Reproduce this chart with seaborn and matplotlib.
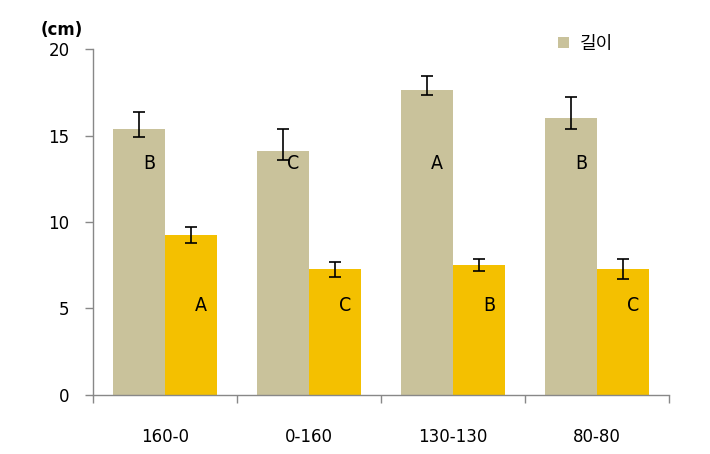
import numpy as np
import pandas as pd
import matplotlib
matplotlib.use("Agg")
import matplotlib.pyplot as plt
import seaborn as sns

categories = ["160-0", "0-160", "130-130", "80-80"]
series_names = ["길이", "너비"]
length_vals = [15.4, 14.1, 17.65, 16.0]
length_err_lo = [0.5, 0.5, 0.3, 0.65]
length_err_hi = [0.95, 1.3, 0.8, 1.2]
other_vals = [9.27, 7.26, 7.53, 7.26]
other_err_lo = [0.47, 0.46, 0.35, 0.57]
other_err_hi = [0.42, 0.41, 0.31, 0.62]
length_letters = ["B", "C", "A", "B"]
other_letters = ["A", "C", "B", "C"]
y_ticks = [0, 5, 10, 15, 20]

sns.set_theme(style="white")
plt.rcParams['font.family'] = ['DejaVu Sans', 'Noto Sans CJK KR']
plt.rcParams['text.color'] = 'black'
plt.rcParams['xtick.color'] = 'black'
plt.rcParams['ytick.color'] = 'black'

df = pd.DataFrame({
    "cat": categories * 2,
    "series": [series_names[0]] * 4 + [series_names[1]] * 4,
    "val": length_vals + other_vals,
})

fig = plt.figure(figsize=(7.1, 4.54), dpi=100)
ax = fig.add_axes([0.131, 0.130, 0.811, 0.762])
palette = {series_names[0]: "#C9C29B", series_names[1]: "#F4C000"}
sns.barplot(data=df, x="cat", y="val", hue="series", order=categories,
            hue_order=series_names, palette=palette, errorbar=None,
            width=0.72, saturation=1, ax=ax, linewidth=0)

bars = [p for p in ax.patches if p.get_height() > 0][:8]
bars = sorted(bars, key=lambda p: p.get_x())
len_bars = bars[0::2]
oth_bars = bars[1::2]
for group, vals, lo, hi, letters, ypos in [
        (len_bars, length_vals, length_err_lo, length_err_hi, length_letters, 13.4),
        (oth_bars, other_vals, other_err_lo, other_err_hi, other_letters, 5.2)]:
    xs = [b.get_x() + b.get_width() / 2 for b in group]
    ax.errorbar(xs, vals, yerr=[lo, hi], fmt="none", ecolor="black",
                elinewidth=1.2, capsize=4, capthick=1.2)
    for b, l in zip(group, letters):
        ax.text(b.get_x() + b.get_width() / 2 + 0.07, ypos, l,
                ha="center", va="center", fontsize=14, color="black",
                fontstretch="condensed")

ax.set_xlim(-0.5, len(categories) - 0.5)
ax.set_ylim(0, 20)
ax.set_yticks(y_ticks)
ax.set_yticklabels([str(t) for t in y_ticks], fontsize=12, color="black")
ax.set_xticks(np.arange(-0.5, len(categories), 1.0))
ax.set_xticklabels([])
ax.set_xticks(np.arange(len(categories)), minor=True)
ax.set_xticklabels(categories, minor=True, fontsize=12, color="black")
ax.tick_params(axis="x", which="major", length=6, width=1, color="#888888",
               direction="out", bottom=True)
ax.tick_params(axis="x", which="minor", length=0, pad=24)
ax.tick_params(axis="y", length=6, width=1, color="#888888", direction="out",
               left=True, pad=11)
ax.set_xlabel("")
ax.set_ylabel("")
for s in ["top", "right"]:
    ax.spines[s].set_visible(False)
for s in ["left", "bottom"]:
    ax.spines[s].set_color("#888888")
    ax.spines[s].set_linewidth(1)

handles, labels = ax.get_legend_handles_labels()
ax.legend([handles[0]], [labels[0]], frameon=False, loc="center left",
          bbox_to_anchor=(0.78, 1.015), fontsize=13, handlelength=0.6,
          handleheight=0.6, handletextpad=0.6)

ax.text(-0.055, 1.055, "(cm)", transform=ax.transAxes, fontsize=12,
        fontweight="bold", ha="center", va="center", color="black")

fig.savefig("out.png", dpi=100)
